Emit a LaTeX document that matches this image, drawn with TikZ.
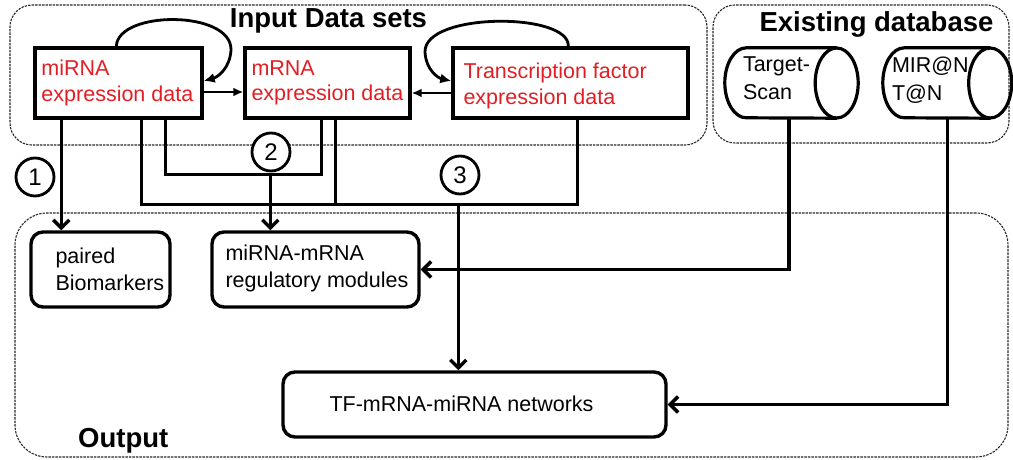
\documentclass[tikz,border=0pt]{standalone}
\usepackage{fontspec}
\setmainfont{Liberation Sans}
\usetikzlibrary{arrows.meta,calc}
\definecolor{datared}{RGB}{226,30,36}
\definecolor{framegray}{RGB}{40,40,40}

\begin{document}
\begin{tikzpicture}[x=1pt,y=-1pt,
  frame/.style={draw=framegray, line width=1.1pt, dash pattern=on 2.4pt off 1.1pt,
    rounded corners=#1, inner sep=0pt},
  title/.style={font=\fontsize{27.5}{32}\selectfont\bfseries, inner sep=0pt},
  inbox/.style={draw, line width=3.4pt, minimum height=70, inner sep=0pt},
  outbox/.style={draw, line width=3.4pt, rounded corners=12, inner sep=0pt},
  intxt/.style={text=datared, align=left, inner sep=0pt, anchor=west,
    font=\fontsize{21.5}{25.5}\selectfont},
  outtxt/.style={align=left, inner sep=0pt, anchor=west,
    font=\fontsize{21.5}{26.5}\selectfont},
  dbtxt/.style={align=left, inner sep=0pt, anchor=west,
    font=\fontsize{21.5}{28}\selectfont},
  dbnode/.style={minimum height=70, inner sep=0pt},
  cylline/.style={line width=3.2pt},
  numc/.style={circle, draw, line width=2.8pt, fill=white, minimum size=38,
    inner sep=0pt, font=\fontsize{24}{28}\selectfont},
  conn/.style={line width=3.4pt, -{Straight Barb[length=8pt,width=16pt]}},
  plain/.style={line width=3.4pt},
  small/.style={line width=2.4pt, -{Latex[length=10pt,width=9pt]}},
  selfloop/.style={line width=2.8pt, -{Latex[length=11pt,width=10pt]}}
]
\useasboundingbox (0,0) rectangle (1013,460);

% group frames
\node[frame=22, minimum width=697, minimum height=140] (inframe) at (358.5,75) {};
\node[frame=22, minimum width=296, minimum height=138] (dbframe) at (861,74) {};
\node[frame=32, minimum width=993, minimum height=244] (outframe) at (511.5,335) {};

\node[title, anchor=base] (intitle) at (328.5,28) {Input Data sets};
\node[title, anchor=base] (dbtitle) at (876.5,32) {Existing database};
\node[title, anchor=base west] (outtitle) at (78,447) {Output};

% input data boxes
\node[inbox, minimum width=167] (mirna) at (118.5,83) {};
\node[inbox, minimum width=165] (mrna) at (327.5,83) {};
\node[inbox, minimum width=235] (tf) at (570.5,83) {};
\node[intxt] (mirna-t) at ([xshift=8]mirna.west) {miRNA\\expression data};
\node[intxt] (mrna-t) at ([xshift=8]mrna.west) {mRNA\\expression data};
\node[intxt] (tf-t) at ([xshift=12,yshift=-3]tf.west) {Transcription factor\\expression data};

% databases drawn as horizontal cylinders
\node[dbnode, minimum width=133] (ts) at (791.5,83) {};
\node[dbnode, minimum width=128.5] (mir) at (947.25,83) {};
\foreach \db in {ts,mir}{
  \draw[cylline] ([xshift=-21.5]\db.east) ellipse [x radius=21.5, y radius=35];
  \draw[cylline] ([xshift=-21.5]\db.north east) -- ([xshift=21.5]\db.north west)
    arc[start angle=270, end angle=90, x radius=21.5, y radius=35]
    -- ([xshift=-21.5]\db.south east);
}
\node[dbtxt] (ts-t) at ([xshift=18,yshift=5]ts.west) {Target-\\Scan};
\node[dbtxt] (mir-t) at ([xshift=9,yshift=3]mir.west) {MIR@N\\T@N};

% output boxes
\node[outbox, minimum width=139, minimum height=75] (paired) at (100.5,269.5) {};
\node[outbox, minimum width=207, minimum height=75] (modules) at (315.5,269.5) {};
\node[outbox, minimum width=383, minimum height=65] (net) at (474.5,404.5) {};
\node[outtxt] (paired-t) at ([xshift=26]paired.west) {paired\\Biomarkers};
\node[outtxt] (modules-t) at ([xshift=15,yshift=1]modules.west) {miRNA-mRNA\\regulatory modules};
\node[outtxt, anchor=center] (net-t) at ([xshift=-13,yshift=1]net.center) {TF-mRNA-miRNA networks};

% self regulation loops
\draw[selfloop] ([xshift=83]mirna.north west)
  .. controls (118,10) and (232,10) .. (231,50)
  .. controls (230,68) and (218,77) .. ([yshift=2]mirna.east);
\draw[selfloop] ([xshift=117]tf.north west)
  .. controls (570,12) and (424,12) .. (425,52)
  .. controls (426,70) and (438,78) .. ([yshift=2]tf.west);

% interactions between the data sets
\draw[small] ([yshift=-9]mirna.east) -- ([yshift=-9]mrna.west);
\draw[small] ([yshift=-10]tf.west) -- ([yshift=-10]mrna.east);

% analysis 1
\coordinate (p1) at ([xshift=28]mirna.south west);
\draw[conn] (p1) -- (p1 |- paired.north);

% analysis 2
\coordinate (a2) at ([xshift=132]mirna.south west);
\coordinate (b2) at ([xshift=78]mrna.south west);
\coordinate (j2) at ($(a2)+(105,55)$);
\draw[plain] (a2) |- (j2) -| (b2);
\draw[conn] (j2) -- (j2 |- modules.north);

% analysis 3
\coordinate (a3) at ([xshift=108]mirna.south west);
\coordinate (b3) at ([xshift=92]mrna.south west);
\coordinate (c3) at ([xshift=126]tf.south west);
\coordinate (j3) at ($(a3)+(317,85)$);
\draw[plain] (a3) |- (j3) -| (c3);
\draw[plain] (b3) -- (b3 |- j3);
\draw[conn] (j3) -- (j3 |- net.north);

% database links
\draw[conn] ([xshift=-2.5]ts.south) |- (modules.east);
\draw[conn] (mir.south) |- (net.east);

% step numbers
\node[numc] (n1) at (35,177) {1};
\node[numc] (n2) at (271,152) {2};
\node[numc] (n3) at (460,175) {3};
\end{tikzpicture}
\end{document}
